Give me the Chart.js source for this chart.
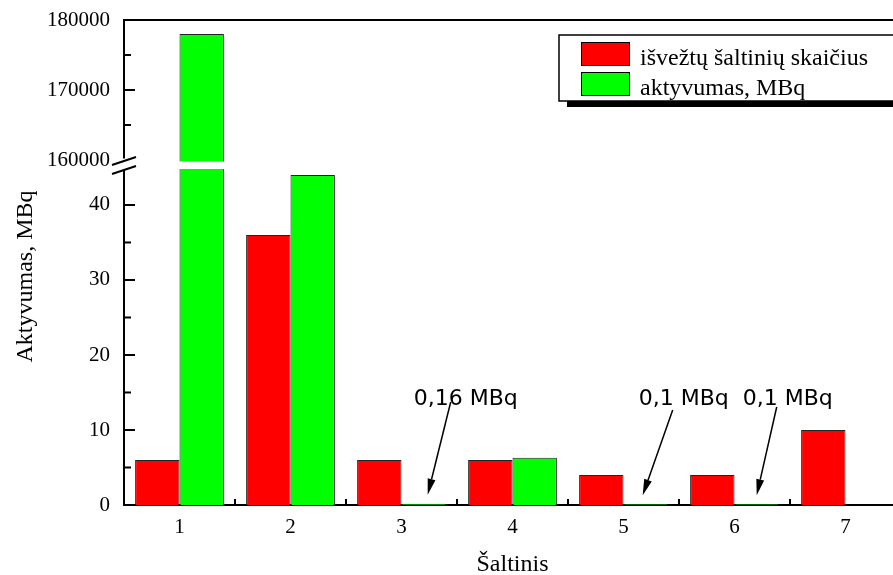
<!DOCTYPE html>
<html>
<head>
<meta charset="utf-8">
<script src="https://cdn.jsdelivr.net/npm/chart.js@4.4.1/dist/chart.umd.min.js"></script>
<style>
  html, body { margin: 0; padding: 0; background: #fff; overflow: hidden; }
  /* the original plot runs a little past the right edge of the picture */
  #wrap { width: 901px; height: 575px; }
</style>
</head>
<body>
<div id="wrap"><canvas id="chart"></canvas></div>
<script>
// Data
const sources = ['1', '2', '3', '4', '5', '6', '7'];
const removedCount = [6, 36, 6, 6, 4, 4, 10];
const activityMBq = [178000, 44, 0.16, 6.3, 0.1, 0.1, null];
const lowerTicks = [0, 5, 10, 15, 20, 25, 30, 35, 40];
const upperTicks = [160000, 165000, 170000, 175000, 180000];
const noteLabels = ['', '', '0,16 MBq', '', '0,1 MBq', '0,1 MBq', ''];
const seriesNames = ['išvežtų šaltinių skaičius', 'aktyvumas, MBq'];
const seriesColors = ['#ff0000', '#00ff00'];

// broken axis ranges
const LOWER_MAX = 45.33;
const UPPER_MIN = 159286;
const UPPER_MAX = 180000;

const SERIF = '"Liberation Serif", "Times New Roman", serif';

// values that go past the break get a second bar on the upper scale
const upperPart = activityMBq.map(v => (v !== null && v > LOWER_MAX) ? v : null);

// where the arrows and texts sit, relative to the green bar
const noteLayout = [null, null,
  { tx: -10, sx: 27, sy: 402, ex: 4 },
  null,
  { tx: -7, sx: 27, sy: 410, ex: -3 },
  { tx: -14, sx: 20, sy: 407, ex: 0 },
  null];

function arrow(ctx, x1, y1, x2, y2) {
  const ang = Math.atan2(y2 - y1, x2 - x1);
  const len = 16, half = 4;
  const bx = x2 - len * Math.cos(ang), by = y2 - len * Math.sin(ang);
  ctx.beginPath();
  ctx.moveTo(x1, y1);
  ctx.lineTo(bx, by);
  ctx.stroke();
  ctx.beginPath();
  ctx.moveTo(x2, y2);
  ctx.lineTo(bx + half * Math.sin(ang), by - half * Math.cos(ang));
  ctx.lineTo(bx - half * Math.sin(ang), by + half * Math.cos(ang));
  ctx.closePath();
  ctx.fill();
}

function noPad(s) {
  s.paddingTop = 0; s.paddingBottom = 0; s.paddingLeft = 0; s.paddingRight = 0;
}

const decorations = {
  id: 'decorations',
  afterDatasetsDraw(chart) {
    const ctx = chart.ctx;
    const area = chart.chartArea;
    const lo = chart.scales.y, hi = chart.scales.y2, xs = chart.scales.x;
    const axisX = area.left;
    ctx.save();
    ctx.strokeStyle = '#000';
    ctx.fillStyle = '#000';
    ctx.lineWidth = 2;

    // frame top
    ctx.beginPath();
    ctx.moveTo(axisX - 1, area.top);
    ctx.lineTo(area.right, area.top);
    ctx.stroke();

    // inward ticks on y
    lowerTicks.forEach(v => {
      const y = lo.getPixelForValue(v);
      const len = v % 10 === 0 ? 11 : 7;
      ctx.beginPath(); ctx.moveTo(axisX, y); ctx.lineTo(axisX + len, y); ctx.stroke();
    });
    upperTicks.forEach(v => {
      if (v === 160000) return;
      const y = hi.getPixelForValue(v);
      const len = v % 10000 === 0 ? 11 : 7;
      ctx.beginPath(); ctx.moveTo(axisX, y); ctx.lineTo(axisX + len, y); ctx.stroke();
    });

    // inward ticks on x between categories
    const step = (xs.right - xs.left) / sources.length;
    for (let i = 1; i < sources.length; i++) {
      const x = xs.left + i * step;
      ctx.beginPath(); ctx.moveTo(x, area.bottom); ctx.lineTo(x, area.bottom - 6); ctx.stroke();
    }

    // the break
    const gapTop = hi.getPixelForValue(160000) + 1.5;
    const gapBot = lo.top + 4;
    ctx.fillStyle = '#fff';
    ctx.fillRect(axisX - 2, gapTop - 3, 5, gapBot - gapTop + 4);
    ctx.fillRect(axisX + 2, gapTop, area.right - axisX, gapBot - gapTop);
    ctx.fillStyle = '#000';
    ctx.lineWidth = 2;
    [gapTop - 0.5, gapBot + 1].forEach(y => {
      ctx.beginPath();
      ctx.moveTo(axisX - 12, y + 4);
      ctx.lineTo(axisX + 12, y - 4);
      ctx.stroke();
    });

    // y title
    ctx.save();
    ctx.translate(26, (area.top + area.bottom) / 2 + 14);
    ctx.rotate(-Math.PI / 2);
    ctx.font = '24px ' + SERIF;
    ctx.textAlign = 'center';
    ctx.textBaseline = 'middle';
    ctx.fillText('Aktyvumas, MBq', 0, 0);
    ctx.restore();

    // notes with arrows
    const greenMeta = chart.getDatasetMeta(1);
    ctx.font = '22px "DejaVu Sans", sans-serif';
    ctx.textAlign = 'left';
    ctx.textBaseline = 'alphabetic';
    ctx.lineWidth = 1.5;
    noteLabels.forEach((txt, i) => {
      if (!txt) return;
      const bar = greenMeta.data[i];
      const L = noteLayout[i];
      ctx.fillText(txt, bar.x + L.tx, 405);
      arrow(ctx, bar.x + L.sx, L.sy, bar.x + L.ex, lo.getPixelForValue(activityMBq[i]) - 9);
    });

    // legend
    const lx = 559, ly = 35, lw = 350, lh = 66;
    ctx.fillStyle = '#000';
    ctx.fillRect(lx + 8, ly + lh, lw, 6);
    ctx.fillStyle = '#fff';
    ctx.fillRect(lx, ly, lw, lh);
    ctx.lineWidth = 1.5;
    ctx.strokeRect(lx, ly, lw, lh);
    ctx.font = '24px ' + SERIF;
    ctx.textBaseline = 'alphabetic';
    seriesNames.forEach((name, k) => {
      const y = ly + 7 + k * 30;
      ctx.fillStyle = seriesColors[k];
      ctx.fillRect(581, y, 49, 24);
      ctx.lineWidth = 1;
      ctx.strokeStyle = '#000';
      ctx.strokeRect(581.5, y + 0.5, 48, 23);
      ctx.fillStyle = '#000';
      ctx.fillText(name, 640, y + 23);
    });
    ctx.restore();
  }
};

const tickFont = { family: SERIF, size: 21 };

new Chart(document.getElementById('chart'), {
  type: 'bar',
  data: {
    labels: sources,
    datasets: [
      { label: seriesNames[0], data: removedCount, yAxisID: 'y', stack: 'red',
        backgroundColor: seriesColors[0], borderColor: '#222', borderWidth: 1 },
      { label: seriesNames[1], data: activityMBq, yAxisID: 'y', stack: 'green', clip: 0,
        backgroundColor: seriesColors[1], borderColor: '#222', borderWidth: 1 },
      { label: seriesNames[1], data: upperPart, yAxisID: 'y2', stack: 'green', clip: 0,
        backgroundColor: seriesColors[1], borderColor: '#222', borderWidth: 1 }
    ]
  },
  options: {
    responsive: true,
    maintainAspectRatio: false,
    animation: false,
    layout: { padding: { top: 20, right: 0, left: 0, bottom: 0 } },
    categoryPercentage: 0.8,
    barPercentage: 1.0,
    plugins: { legend: { display: false }, tooltip: { enabled: false } },
    scales: {
      x: {
        type: 'category',
        grid: { display: false },
        border: { display: true, color: '#000', width: 2 },
        ticks: { font: tickFont, color: '#000', padding: 2, maxRotation: 0 },
        afterFit: s => { s.height = 70; noPad(s); },
        title: { display: true, text: 'Šaltinis', color: '#000',
          font: { family: SERIF, size: 24 }, padding: { top: 0, bottom: -4 } }
      },
      y: {
        type: 'linear', position: 'left', stack: 'act', stackWeight: 340,
        min: 0, max: LOWER_MAX, stacked: false,
        afterBuildTicks: s => { s.ticks = lowerTicks.map(v => ({ value: v })); },
        afterFit: s => { s.width = 124; noPad(s); },
        grid: { display: false },
        border: { display: true, color: '#000', width: 2 },
        ticks: { font: tickFont, color: '#000', padding: 6,
          callback: v => (v % 10 === 0 ? v : '') }
      },
      y2: {
        type: 'linear', position: 'left', stack: 'act', stackWeight: 145,
        min: UPPER_MIN, max: UPPER_MAX, stacked: false,
        afterBuildTicks: s => { s.ticks = upperTicks.map(v => ({ value: v })); },
        afterFit: s => { s.width = 124; noPad(s); },
        grid: { display: false },
        border: { display: true, color: '#000', width: 2 },
        ticks: { font: tickFont, color: '#000', padding: 6,
          callback: v => (v % 10000 === 0 ? v : '') }
      }
    }
  },
  plugins: [decorations]
});
</script>
</body>
</html>
